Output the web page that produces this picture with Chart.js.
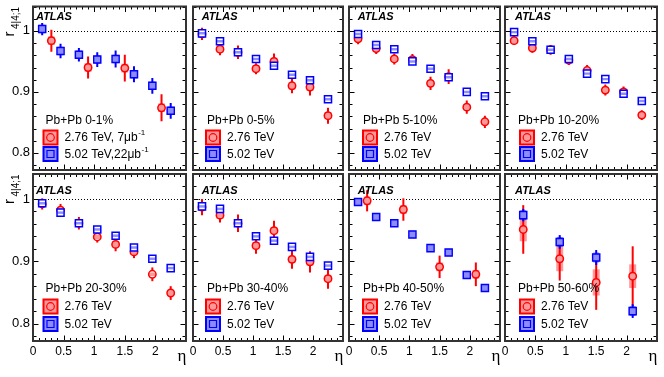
<!DOCTYPE html>
<html>
<head>
<meta charset="utf-8">
<script src="https://cdn.jsdelivr.net/npm/chart.js@4.4.1/dist/chart.umd.min.js"></script>
<style>
  html, body { margin: 0; padding: 0; background: #fff; }
  #wrap { position: relative; width: 664px; height: 377px; }
  #wrap canvas { position: absolute; left: 0; top: 0; }
</style>
</head>
<body>
<div id="wrap"></div>
<script>
// ---- data ----
const centralities = ['0-1%', '0-5%', '5-10%', '10-20%', '20-30%', '30-40%', '40-50%', '50-60%'];
const etaFine = [0.15, 0.45, 0.75, 1.05, 1.35, 1.65, 1.95, 2.25];
const etaCoarse = [0.3, 0.9, 1.5, 2.1];
const eta276 = [etaCoarse, etaFine, etaFine, etaFine, etaFine, etaFine, etaCoarse, etaCoarse];
const eta502 = [etaFine, etaFine, etaFine, etaFine, etaFine, etaFine, etaFine, etaCoarse];

const r276 = [
  [0.984, 0.940, 0.939, 0.874],
  [0.995, 0.970, 0.965, 0.938, 0.950, 0.910, 0.908, 0.861],
  [0.987, 0.971, 0.954, 0.953, 0.914, 0.925, 0.875, 0.851],
  [0.984, 0.972, 0.969, 0.952, 0.935, 0.903, 0.900, 0.862],
  [0.992, 0.982, 0.961, 0.939, 0.927, 0.915, 0.879, 0.849],
  [0.987, 0.974, 0.961, 0.925, 0.949, 0.903, 0.899, 0.872],
  [0.997, 0.983, 0.891, 0.879],
  [0.951, 0.904, 0.866, 0.876]
];
const stat276 = [
  [0.018, 0.018, 0.022, 0.022],
  [0.010, 0.010, 0.011, 0.009, 0.013, 0.012, 0.014, 0.013],
  [0.009, 0.009, 0.009, 0.009, 0.011, 0.012, 0.011, 0.010],
  [0.007, 0.008, 0.008, 0.008, 0.009, 0.009, 0.009, 0.008],
  [0.009, 0.010, 0.010, 0.009, 0.011, 0.010, 0.011, 0.011],
  [0.013, 0.012, 0.014, 0.013, 0.016, 0.015, 0.017, 0.016],
  [0.017, 0.018, 0.018, 0.019],
  [0.039, 0.035, 0.044, 0.048]
];
const sys276 = [
  [0.007, 0.007, 0.007, 0.007],
  [0.006, 0.006, 0.006, 0.006, 0.006, 0.006, 0.006, 0.006],
  [0.005, 0.005, 0.005, 0.005, 0.005, 0.005, 0.005, 0.005],
  [0.005, 0.005, 0.005, 0.005, 0.005, 0.005, 0.005, 0.005],
  [0.004, 0.004, 0.005, 0.004, 0.005, 0.005, 0.003, 0.005],
  [0.006, 0.006, 0.006, 0.006, 0.006, 0.006, 0.006, 0.006],
  [0.007, 0.007, 0.007, 0.007],
  [0.019, 0.020, 0.021, 0.019]
];
const r502 = [
  [1.003, 0.967, 0.961, 0.953, 0.954, 0.929, 0.910, 0.869],
  [0.996, 0.983, 0.965, 0.954, 0.943, 0.928, 0.919, 0.888],
  [0.995, 0.977, 0.970, 0.950, 0.938, 0.924, 0.900, 0.893],
  [0.998, 0.983, 0.969, 0.954, 0.930, 0.921, 0.897, 0.885],
  [0.993, 0.978, 0.961, 0.951, 0.941, 0.922, 0.904, 0.889],
  [0.988, 0.984, 0.961, 0.940, 0.933, 0.923, 0.907, 0.893],
  [0.995, 0.971, 0.961, 0.943, 0.921, 0.914, 0.878, 0.857],
  [0.974, 0.931, 0.906, 0.820]
];
const stat502 = [
  [0.010, 0.012, 0.011, 0.012, 0.014, 0.013, 0.013, 0.013],
  [0.004, 0.004, 0.004, 0.004, 0.004, 0.004, 0.004, 0.004],
  [0.004, 0.004, 0.004, 0.004, 0.004, 0.004, 0.004, 0.004],
  [0.004, 0.004, 0.004, 0.004, 0.004, 0.004, 0.004, 0.004],
  [0.004, 0.004, 0.004, 0.004, 0.004, 0.004, 0.004, 0.004],
  [0.004, 0.004, 0.004, 0.004, 0.004, 0.004, 0.004, 0.004],
  [0.005, 0.005, 0.005, 0.005, 0.005, 0.005, 0.005, 0.005],
  [0.010, 0.011, 0.012, 0.011]
];
const sys502 = [
  [0.007, 0.007, 0.007, 0.007, 0.007, 0.007, 0.007, 0.007],
  [0.002, 0.002, 0.002, 0.002, 0.002, 0.002, 0.002, 0.002],
  [0.002, 0.002, 0.002, 0.002, 0.002, 0.002, 0.002, 0.002],
  [0.002, 0.002, 0.002, 0.002, 0.002, 0.002, 0.002, 0.002],
  [0.002, 0.002, 0.002, 0.002, 0.002, 0.002, 0.002, 0.002],
  [0.002, 0.002, 0.002, 0.002, 0.002, 0.002, 0.002, 0.002],
  [0.006, 0.006, 0.006, 0.006, 0.006, 0.006, 0.006, 0.006],
  [0.008, 0.008, 0.008, 0.008]
];
const xTickLabels = [0, 0.5, 1, 1.5, 2];
const yTickLabels = [0.8, 0.9, 1];
const energyLabels = ['2.76 TeV', '5.02 TeV'];
const lumiLabels = [', 7\u03bcb', ',22\u03bcb'];

// ---- layout ----
const W = 664, H = 377;
const colLeft = [33, 193, 349, 505];
const colRight = [186, 343, 500, 657];
const rowTop = [4, 174];
const rowBottom = [170, 341];
const atlasDx = [3, 8.7, 8.7, 10];
const atlasDy = [13.5, 20];
const legTextDx = [12.5, 14, 14, 13];
const legBoxDx = [17.5, 20, 21, 22];
const legTitleDy = [114, 115];
const legRedDy = [131, 132.5];
const legBlueDy = [147.5, 150];

const FONT = '"Liberation Sans", Arial, Helvetica, sans-serif';
const RED = '#ff0000', BLUE = '#0000ff';
const RED_FILL = 'rgba(255,0,0,0.4)', BLUE_FILL = 'rgba(0,0,255,0.45)';

function pts(xs, vals) { return xs.map((x, k) => ({ x: x, y: vals[k] })); }
function bands(xs, vals, errs) { return xs.map((x, k) => ({ x: x, y: [vals[k] - errs[k], vals[k] + errs[k]] })); }
function noPad(s) { s.paddingTop = 0; s.paddingBottom = 0; s.paddingLeft = 0; s.paddingRight = 0; }

function makeDecor(i) {
  const col = i % 4, row = Math.floor(i / 4);
  return {
    id: 'decor' + i,
    beforeDatasetsDraw(chart) {
      const ctx = chart.ctx, a = chart.chartArea, y1 = chart.scales.y.getPixelForValue(1);
      ctx.save();
      ctx.strokeStyle = '#000';
      ctx.lineWidth = 1;
      ctx.setLineDash([1, 2]);
      ctx.beginPath();
      ctx.moveTo(a.left, Math.round(y1) + 0.5);
      ctx.lineTo(a.right, Math.round(y1) + 0.5);
      ctx.stroke();
      ctx.restore();
    },
    afterDraw(chart) {
      const ctx = chart.ctx, a = chart.chartArea;
      const xs = chart.scales.x, ys = chart.scales.y;
      ctx.save();
      // inner ticks on all four sides
      ctx.strokeStyle = '#000';
      ctx.lineWidth = 1;
      ctx.beginPath();
      for (let k = 0; k <= 25; k++) {
        const px = Math.round(xs.getPixelForValue(k / 10)) + 0.5;
        const len = k % 5 === 0 ? 5.5 : 3;
        ctx.moveTo(px, a.bottom); ctx.lineTo(px, a.bottom - len);
        ctx.moveTo(px, a.top); ctx.lineTo(px, a.top + len);
      }
      for (let k = 39; k <= 52; k++) {
        const v = k * 0.02;
        if (v < ys.min || v > ys.max) continue;
        const py = Math.round(ys.getPixelForValue(v)) + 0.5;
        const len = k % 5 === 0 ? 5.5 : 3.5;
        ctx.moveTo(a.left, py); ctx.lineTo(a.left + len, py);
        ctx.moveTo(a.right, py); ctx.lineTo(a.right - len, py);
      }
      ctx.stroke();
      // frame
      ctx.strokeStyle = '#333';
      ctx.lineWidth = 2;
      ctx.strokeRect(a.left, a.top, a.right - a.left, a.bottom - a.top);

      // ATLAS
      ctx.fillStyle = '#000';
      ctx.textAlign = 'left';
      ctx.textBaseline = 'alphabetic';
      ctx.font = 'italic bold 11px ' + FONT;
      ctx.fillText('ATLAS', a.left + atlasDx[col], a.top + atlasDy[row]);

      // legend
      ctx.font = '12px ' + FONT;
      ctx.textBaseline = 'middle';
      ctx.fillText('Pb+Pb ' + centralities[i], a.left + legTextDx[col], a.top + legTitleDy[row]);
      const bx = a.left + legBoxDx[col];
      const entries = [[a.top + legRedDy[row], RED, RED_FILL, 'circle', 0], [a.top + legBlueDy[row], BLUE, BLUE_FILL, 'rect', 1]];
      entries.forEach(([cy, c, f, shape, s]) => {
        ctx.fillStyle = '#fff';
        ctx.fillRect(bx - 7, cy - 7, 14, 14);
        ctx.fillStyle = f;
        ctx.fillRect(bx - 7, cy - 7, 14, 14);
        ctx.strokeStyle = c;
        ctx.lineWidth = 2;
        ctx.strokeRect(bx - 7, cy - 7, 14, 14);
        ctx.lineWidth = 1.2;
        ctx.beginPath();
        if (shape === 'circle') ctx.arc(bx, cy, 3.8, 0, Math.PI * 2);
        else ctx.rect(bx - 3.5, cy - 3.5, 7, 7);
        ctx.stroke();
        ctx.fillStyle = '#000';
        ctx.font = '12px ' + FONT;
        let tx = bx + 14;
        let label = energyLabels[s];
        if (i === 0) label += lumiLabels[s];
        ctx.fillText(label, tx, cy + 0.5);
        if (i === 0) {
          tx += ctx.measureText(label).width + 0.5;
          ctx.font = '8px ' + FONT;
          ctx.fillText('-1', tx, cy - 4.5);
        }
      });

      // y title
      if (col === 0) {
        ctx.save();
        ctx.translate(14, a.top + 30);
        ctx.rotate(-Math.PI / 2);
        ctx.textAlign = 'left';
        ctx.textBaseline = 'alphabetic';
        ctx.fillStyle = '#000';
        ctx.font = '15px ' + FONT;
        ctx.fillText('r', 0, 0);
        const rw = ctx.measureText('r').width;
        ctx.font = '10px ' + FONT;
        ctx.fillText('4|4;1', rw + 2.5, 4.5);
        ctx.restore();
      }
      // x title
      if (row === 1) {
        ctx.font = '17px "Liberation Serif", "DejaVu Serif", serif';
        ctx.textAlign = 'center';
        ctx.textBaseline = 'alphabetic';
        ctx.fillStyle = '#000';
        ctx.fillText('\u03b7', a.right - 4, 361);
      }
      ctx.restore();
    }
  };
}

const wrap = document.getElementById('wrap');
for (let i = 0; i < 8; i++) {
  const col = i % 4, row = Math.floor(i / 4);
  const isLeft = col === 0, isBottom = row === 1;
  const canvas = document.createElement('canvas');
  canvas.width = W; canvas.height = H;
  wrap.appendChild(canvas);

  const xScale = {
    type: 'linear', min: 0, max: 2.5, offset: false, display: isBottom,
    grid: { display: false, drawTicks: false, offset: false },
    border: { display: false },
    ticks: { padding: 3, color: '#000', font: { family: FONT, size: 12 }, maxRotation: 0, autoSkip: false, callback: v => String(v) },
    afterBuildTicks: s => { s.ticks = xTickLabels.map(v => ({ value: v })); },
    afterFit: s => { noPad(s); if (isBottom) s.height = H - rowBottom[row]; }
  };
  const yScale = {
    type: 'linear', min: 0.772, max: 1.04, display: isLeft,
    grid: { display: false, drawTicks: false },
    border: { display: false },
    ticks: { padding: 3, color: '#000', font: { family: FONT, size: 13 }, callback: v => String(v) },
    afterBuildTicks: s => { s.ticks = yTickLabels.map(v => ({ value: v })); },
    afterFit: s => { noPad(s); if (isLeft) s.width = colLeft[0]; }
  };

  const barBase = { type: 'bar', grouped: false, borderWidth: 0, inflateAmount: 0 };
  new Chart(canvas, {
    type: 'scatter',
    data: {
      datasets: [
        Object.assign({}, barBase, { data: bands(eta502[i], r502[i], sys502[i]), backgroundColor: BLUE_FILL, barThickness: 6, order: 0 }),
        { type: 'scatter', data: pts(eta502[i], r502[i]), pointStyle: 'rect', pointRadius: 5, backgroundColor: '#fff', borderColor: BLUE, borderWidth: 1.5, order: 1 },
        Object.assign({}, barBase, { data: bands(eta502[i], r502[i], stat502[i]), backgroundColor: BLUE, barThickness: 2, order: 2 }),
        Object.assign({}, barBase, { data: bands(eta276[i], r276[i], sys276[i]), backgroundColor: RED_FILL, barThickness: 7, order: 3 }),
        { type: 'scatter', data: pts(eta276[i], r276[i]), pointStyle: 'circle', pointRadius: 3.7, backgroundColor: '#fff', borderColor: RED, borderWidth: 1.5, order: 4 },
        Object.assign({}, barBase, { data: bands(eta276[i], r276[i], stat276[i]), backgroundColor: RED, barThickness: 2, order: 5 })
      ]
    },
    options: {
      responsive: false,
      animation: false,
      events: [],
      layout: {
        padding: {
          left: isLeft ? 0 : colLeft[col],
          right: W - colRight[col],
          top: rowTop[row],
          bottom: isBottom ? 0 : H - rowBottom[row]
        }
      },
      plugins: { legend: { display: false }, tooltip: { enabled: false } },
      scales: { x: xScale, y: yScale }
    },
    plugins: [makeDecor(i)]
  });
}
</script>
</body>
</html>
